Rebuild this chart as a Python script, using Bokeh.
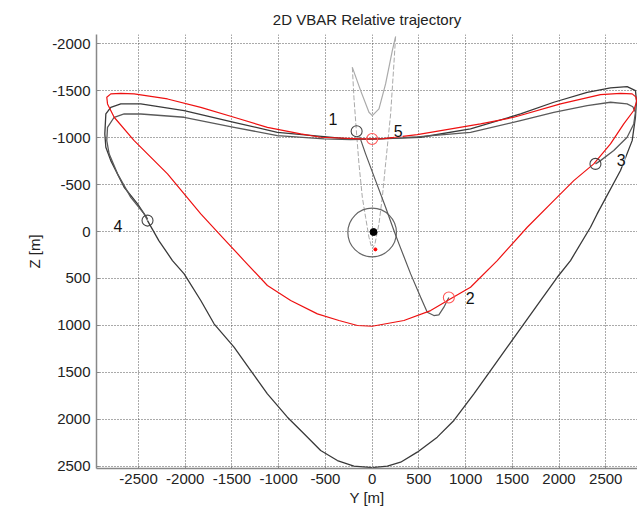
from bokeh.plotting import figure
from bokeh.models import Range1d, FixedTicker, Label, CustomJSTickFormatter
from bokeh.embed import file_html
from bokeh.resources import INLINE

# ---- data (Y [m], Z [m]) ----
# red nominal fly-around loop (starts/ends at point 5)
red_y = [0, 126, 483, 1160, 1517, 2016, 2444, 2658, 2783, 2822, 2832, 2800, 2693, 2551,
         2372, 2158, 1944, 1660, 1339, 1053, 840, 626, 340, 0, -158, -355, -586, -872,
         -1121, -1371, -1602, -1834, -2190, -2547, -2761, -2832, -2840, -2797, -2690,
         -2547, -2190, -1834, -1478, -1121, -765, -551, -123, 0]
red_z = [-987, -990, -1033, -1147, -1218, -1360, -1459, -1473, -1467, -1435, -1390, -1290,
         -1147, -934, -721, -543, -330, -46, 309, 593, 717, 842, 948, 1009, 1001, 948, 877,
         735, 575, 309, 61, -188, -615, -969, -1218, -1360, -1431, -1467, -1473, -1467,
         -1413, -1324, -1218, -1111, -1041, -1005, -987, -987]

# black actual trajectory, inner loop (point 3 -> point 4)
in_y = [2390, 2444, 2586, 2729, 2800, 2818, 2790, 2729, 2551, 2301, 1944, 1588, 1053, 483,
        0, -230, -515, -1014, -1478, -2012, -2476, -2654, -2761, -2832, -2840, -2815,
        -2725, -2583, -2440, -2404]
in_z = [-721, -756, -863, -1005, -1147, -1271, -1330, -1360, -1378, -1342, -1271, -1182,
        -1058, -1010, -985, -980, -987, -1023, -1111, -1218, -1253, -1253, -1218, -1111,
        -969, -828, -615, -365, -188, -117]

# black actual trajectory, outer loop (point 4 -> bottom -> top -> point 4)
out_y = [-2404, -2283, -2137, -2012, -1834, -1692, -1478, -1299, -1121, -907, -729, -551,
         -372, -195, 0, 163, 305, 483, 697, 875, 1089, 1267, 1446, 1624, 1802, 1981, 2123,
         2337, 2408, 2658, 2783, 2818, 2829, 2818, 2729, 2551, 2301, 1944, 1588, 1053, 519,
         0, -230, -515, -1014, -1478, -2012, -2476, -2690, -2797, -2850, -2861, -2850,
         -2797, -2654, -2511, -2404]
out_z = [-117, 96, 309, 451, 735, 983, 1232, 1481, 1729, 1978, 2155, 2333, 2440, 2500, 2515,
         2500, 2458, 2351, 2191, 2013, 1729, 1481, 1232, 983, 735, 487, 309, -46, -188,
         -650, -969, -1218, -1395, -1502, -1545, -1531, -1484, -1378, -1253, -1094, -1005,
         -985, -985, -1012, -1058, -1164, -1289, -1360, -1360, -1324, -1253, -1041, -898,
         -756, -472, -295, -135]

# transfer from point 1 to point 2
tr_y = [-134, -70, 37, 144, 233, 287, 412, 519, 590, 661, 714, 768, 804, 821]
tr_z = [-1012, -828, -543, -259, -11, 131, 451, 700, 860, 895, 888, 806, 735, 703]

# approach corridor walls and inner V (light gray)
lw_y = [-212, -195, -169, -141, -105, -70, -34, -5]
lw_z = [-1750, -1431, -1076, -721, -365, -152, 61, 167]
rw_y = [251, 233, 198, 144, 109, 73, 30, 2]
rw_z = [-2077, -1787, -1254, -721, -365, -82, 131, 184]
v_y = [-212, -123, -34, 2, 73, 144, 216, 251]
v_z = [-1750, -1502, -1271, -1236, -1307, -1573, -1928, -2077]

# keep-out sphere, target and marker points
ko_y, ko_z, ko_r = [0], [10], [260]
tgt_y, tgt_z = [15], [5]
reddot_y, reddot_z = [35], [190]
pt_black_y = [-166, 2390, -2404]   # points 1, 3, 4
pt_black_z = [-1069, -721, -117]
pt_red_y = [0, 821]                # points 5, 2
pt_red_z = [-987, 703]
lab_txt = ["1", "2", "3", "4", "5"]
lab_y = [-420, 1050, 2665, -2720, 280]
lab_z = [-1200, 710, -760, -60, -1070]

xticks = [-2500, -2000, -1500, -1000, -500, 0, 500, 1000, 1500, 2000, 2500]
yticks = [-2000, -1500, -1000, -500, 0, 500, 1000, 1500, 2000, 2500]

FONT = "Liberation Sans"

p = figure(width=637, height=514, output_backend="svg", toolbar_location=None,
           x_range=Range1d(-2950, 2840), y_range=Range1d(2525, -2100),
           title="2D VBAR Relative trajectory",
           min_border_left=96, min_border_right=0, min_border_top=34, min_border_bottom=46)
p.outline_line_color = None
p.background_fill_color = "white"
p.border_fill_color = "white"

p.title.align = "center"
p.title.text_font = FONT
p.title.text_font_size = "15px"
p.title.text_font_style = "normal"
p.title.text_color = "#222222"
p.title.standoff = 14

fmt = CustomJSTickFormatter(code="return String(Math.round(tick));")
for ax in (p.xaxis[0], p.yaxis[0]):
    ax.formatter = fmt
    ax.major_label_text_font = FONT
    ax.major_label_text_font_size = "15px"
    ax.major_label_text_color = "#222222"
    ax.axis_label_text_font = FONT
    ax.axis_label_text_font_size = "15px"
    ax.axis_label_text_font_style = "normal"
    ax.axis_label_text_color = "#222222"
    ax.axis_line_color = "#888888"
    ax.axis_line_width = 1.5
    ax.major_tick_in = 3
    ax.major_tick_out = 0
    ax.major_tick_line_color = "#888888"
    ax.minor_tick_line_color = None

p.xaxis.ticker = FixedTicker(ticks=xticks)
p.yaxis.ticker = FixedTicker(ticks=yticks)
p.xaxis.axis_label = "Y [m]"
p.yaxis.axis_label = "Z [m]"
p.xaxis.major_label_standoff = 5
p.yaxis.major_label_standoff = 6
p.xaxis.axis_label_standoff = 2
p.yaxis.axis_label_standoff = 6

for g in (p.xgrid[0], p.ygrid[0]):
    g.grid_line_color = "#555555"
    g.grid_line_dash = "1 2"
    g.grid_line_width = 1

# corridor
p.line(lw_y, lw_z, line_color="#aaaaaa", line_width=1, line_dash="5 2")
p.line(rw_y, rw_z, line_color="#aaaaaa", line_width=1, line_dash="5 2")
p.line(v_y, v_z, line_color="#aaaaaa", line_width=1.2)

# keep-out sphere
p.circle(x=ko_y, y=ko_z, radius=ko_r, fill_color=None, line_color="#666666", line_width=1.2)

# trajectories
p.line(out_y, out_z, line_color="#3a3a3a", line_width=1.3, line_join="round")
p.line(in_y, in_z, line_color="#5a5a5a", line_width=1.3, line_join="round")
p.line(tr_y, tr_z, line_color="#5a5a5a", line_width=1.2, line_join="round")
p.line(red_y, red_z, line_color="#ee1111", line_width=1.2, line_join="round")

# points
p.scatter(tgt_y, tgt_z, marker="circle", size=7, fill_color="black", line_color="black")
p.scatter(reddot_y, reddot_z, marker="circle", size=3, fill_color="red", line_color="red")
p.scatter(pt_black_y, pt_black_z, marker="circle", size=11, fill_color=None,
          line_color="#444444", line_width=1.1)
p.scatter(pt_red_y, pt_red_z, marker="circle", size=11, fill_color=None,
          line_color="#ff5555", line_width=1.1)

for t, yv, zv in zip(lab_txt, lab_y, lab_z):
    p.add_layout(Label(x=yv, y=zv, text=t, text_font=FONT, text_font_size="16px",
                       text_color="#111111", text_align="center", text_baseline="middle",
                       background_fill_color="white", background_fill_alpha=0.7))

open("out.html", "w").write(file_html(p, INLINE))
